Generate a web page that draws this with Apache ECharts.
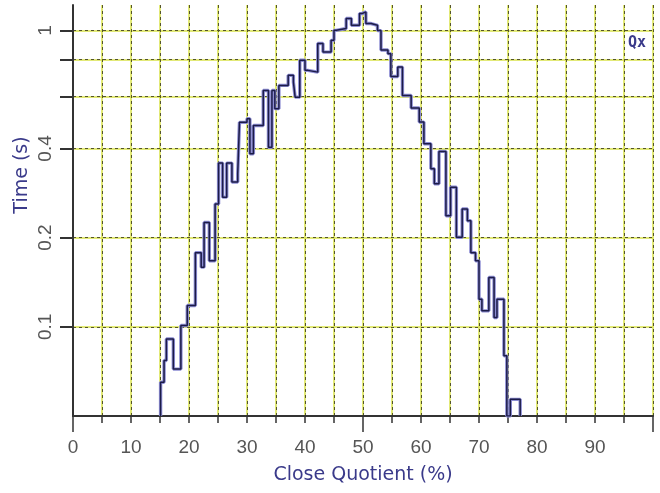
<!DOCTYPE html>
<html>
<head>
<meta charset="utf-8">
<script src="https://cdn.jsdelivr.net/npm/echarts@6/dist/echarts.min.js"></script>
<style>
html,body{margin:0;padding:0;background:#fff;}
#chart{width:660px;height:493px;}
</style>
</head>
<body>
<div id="chart"></div>
<script>
// Close Quotient (%) — left edge of each step
var qx = [15.1, 15.1, 15.7, 16.1, 17.3, 18.6, 19.7, 21.1, 22.1, 22.6,
  23.5, 24.5, 25.1, 25.8, 26.5, 27.4, 28.4, 28.7, 30.0, 30.5,
  31.1, 32.8, 33.7, 34.3, 34.8, 35.5, 37.1, 38.0, 38.3, 39.1,
  40.0, 40.5, 42.2, 43.1, 44.5, 45.0, 45.4, 47.1, 48.0, 49.4,
  49.8, 50.5, 51.4, 52.5, 53.1, 54.3, 54.8, 56.0, 56.8, 58.3,
  59.7, 60.5, 61.7, 62.3, 63.1, 64.3, 65.1, 66.1, 67.1, 68.0,
  68.6, 69.4, 70.0, 70.5, 71.7, 72.6, 73.1, 74.3, 74.8, 75.4, 77.1];
// Time (s) for each step
var timeS = [0.05, 0.065, 0.077, 0.091, 0.072, 0.101, 0.118, 0.178, 0.159, 0.225,
  0.167, 0.26, 0.357, 0.274, 0.357, 0.308, 0.328, 0.49, 0.504, 0.384,
  0.478, 0.628, 0.404, 0.628, 0.545, 0.653, 0.706, 0.67, 0.596, 0.794,
  0.734, 0.724, 0.904, 0.846, 0.927, 1.002, 1.016, 1.098, 1.042, 1.141,
  1.156, 1.056, 1.042, 1.0, 0.86, 0.836, 0.70, 0.753, 0.604, 0.548,
  0.491, 0.415, 0.3415, 0.304, 0.391, 0.237, 0.296, 0.2005, 0.25, 0.228,
  0.178, 0.167, 0.124, 0.1132, 0.1468, 0.1075, 0.124, 0.0798, 0.05, 0.0569, 0.05];
var yTicks = [0.1, 0.2, 0.4, 0.6, 0.8, 1];
var yLabels = [0.1, 0.2, 0.4, 1];
var xTitle = 'Close Quotient (%)';
var yTitle = 'Time (s)';
var tag = 'Qx';

var data = qx.map(function (x, i) { return [x, timeS[i]]; });

var chart = echarts.init(document.getElementById('chart'), null, {renderer: 'canvas'});
var darkGrid = {show: true, lineStyle: {color: '#55552a', type: [3, 3], width: 1}};
var yellowGrid = {show: true, lineStyle: {color: '#d8e24a', type: 'solid', width: 1.5}};
var navy = '#3a3a8a';

chart.setOption({
  animation: false,
  backgroundColor: '#fff',
  grid: {left: 73, right: 7, top: 5, bottom: 77, containLabel: false},
  xAxis: [
    {
      type: 'value', min: 0, max: 100, interval: 5, position: 'bottom', z: 1,
      axisLine: {show: true, lineStyle: {color: '#333', width: 2}},
      axisTick: {show: true, length: 7, lineStyle: {color: '#333', width: 1.5}},
      axisLabel: {
        show: true, margin: 22, color: '#555', fontSize: 19, fontFamily: 'Liberation Sans',
        formatter: function (v) { return (v % 10 === 0 && v < 100) ? String(v) : ''; }
      },
      splitLine: darkGrid,
      name: xTitle, nameLocation: 'middle', nameGap: 50,
      nameTextStyle: {color: navy, fontSize: 19, fontFamily: 'DejaVu Sans'}
    },
    {
      type: 'value', min: 0, max: 100, interval: 5, position: 'bottom', z: 0,
      axisLine: {show: false}, axisTick: {show: false}, axisLabel: {show: false},
      splitLine: yellowGrid
    },
    {
      type: 'value', min: 0, max: 100, position: 'bottom', z: 1,
      axisLine: {show: false},
      axisTick: {show: true, length: 16, customValues: [0, 50, 100], lineStyle: {color: '#333', width: 1.5}},
      axisLabel: {show: false}, splitLine: {show: false}
    }
  ],
  yAxis: [
    {
      type: 'log', logBase: 10, min: 0.05, max: 1.22, z: 1,
      axisLine: {show: true, lineStyle: {color: '#333', width: 2}},
      axisTick: {show: true, length: 13, customValues: yTicks, lineStyle: {color: '#333', width: 2}},
      axisLabel: {
        show: true, customValues: yLabels, rotate: 90, margin: 18,
        color: '#555', fontSize: 19, fontFamily: 'Liberation Sans',
        formatter: function (v) { return String(Math.round(v * 10) / 10); }
      },
      splitLine: darkGrid
    },
    {
      type: 'log', logBase: 10, min: 0.05, max: 1.22, z: 0,
      axisLine: {show: false},
      axisTick: {show: true, length: 0, customValues: yTicks, lineStyle: {color: 'rgba(0,0,0,0)'}},
      axisLabel: {show: false, customValues: yTicks},
      splitLine: yellowGrid
    }
  ],
  graphic: [
    {type: 'text', x: 22, y: 175, rotation: Math.PI / 2,
     style: {text: yTitle, fill: navy, font: '19px "DejaVu Sans"', align: 'center', verticalAlign: 'middle'}},
    {type: 'text', x: 637, y: 43,
     style: {text: tag, fill: navy, font: 'bold 15px "DejaVu Sans Mono"', align: 'center', verticalAlign: 'middle'}}
  ],
  series: [
    {
      type: 'line', step: 'end', data: data, symbol: 'none', z: 3,
      lineStyle: {color: '#8c8cd2', width: 3.4}
    },
    {
      type: 'line', step: 'end', data: data, symbol: 'none', z: 4,
      lineStyle: {color: '#1c1c48', width: 1.5}
    }
  ]
});
</script>
</body>
</html>
